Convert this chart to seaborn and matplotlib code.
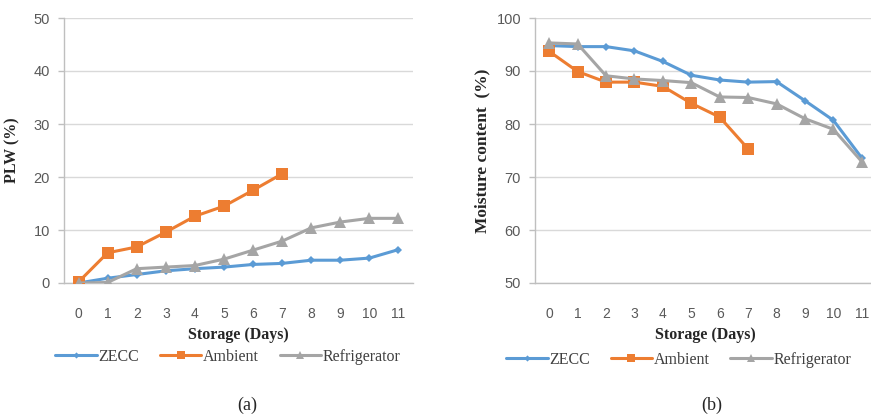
import numpy as np
import pandas as pd
import matplotlib
matplotlib.use('Agg')
import matplotlib.pyplot as plt
import seaborn as sns

# storage days
days = list(range(12))

# (a) physiological loss in weight, %
plw_zecc = [0.0, 0.9, 1.6, 2.3, 2.7, 3.0, 3.5, 3.7, 4.3, 4.3, 4.7, 6.3]
plw_ambient = [0.2, 5.7, 6.8, 9.6, 12.6, 14.5, 17.5, 20.6]
plw_fridge = [0.0, 0.1, 2.7, 3.0, 3.3, 4.5, 6.2, 7.9, 10.4, 11.5, 12.2, 12.2]

# (b) moisture content, %
mc_zecc = [94.8, 94.6, 94.6, 93.8, 91.8, 89.2, 88.3, 87.9, 88.0, 84.4, 80.7, 73.6]
mc_ambient = [93.7, 89.9, 87.9, 87.9, 87.1, 83.9, 81.3, 75.3]
mc_fridge = [95.3, 95.1, 89.1, 88.5, 88.2, 87.8, 85.1, 85.0, 83.8, 81.0, 79.0, 72.9]

names = ['ZECC', 'Ambient', 'Refrigerator']
colors = {'ZECC': '#5B9BD5', 'Ambient': '#ED7D31', 'Refrigerator': '#A5A5A5'}
markers = {'ZECC': 'D', 'Ambient': 's', 'Refrigerator': '^'}
msize = {'ZECC': 4.5, 'Ambient': 8, 'Refrigerator': 8}


def long_df(zecc, amb, fridge):
    rows = []
    for name, vals in zip(names, [zecc, amb, fridge]):
        for d, v in zip(days, vals):
            rows.append({'day': d, 'value': v, 'treat': name})
    return pd.DataFrame(rows)


sns.set_style('white')
plt.rcParams['font.family'] = ['Liberation Sans', 'DejaVu Sans']

fig = plt.figure(figsize=(8.71, 4.18), dpi=100)
W, H = 871.0, 418.0
ax1 = fig.add_axes([64 / W, 1 - 283 / H, 349 / W, 265 / H])
ax2 = fig.add_axes([535 / W, 1 - 283 / H, 341 / W, 265 / H])

serif = ['Liberation Serif', 'DejaVu Serif']


def draw(ax, df, ylim, ylabel, ylab_size, xmax, ylab_x, leg_loc, leg_x,
         leg_y, caption, cap_x):
    sns.lineplot(data=df, x='day', y='value', hue='treat', style='treat',
                 hue_order=names, style_order=names, palette=colors,
                 markers=markers, dashes=False, linewidth=2.2,
                 markeredgewidth=0, legend=False, ax=ax, zorder=3)
    for line, name in zip(ax.get_lines(), names):
        line.set_markersize(msize[name])
        line.set_markeredgecolor(colors[name])
        line.set_label(name)

    ax.set_xlim(-0.5, xmax)
    ax.set_ylim(*ylim)
    ax.set_yticks(np.arange(ylim[0], ylim[1] + 1, 10))
    ax.set_xticks(days)
    ax.set_xticks(np.arange(-0.5, 12, 1), minor=True)
    ax.grid(axis='y', color='#d9d9d9', linewidth=1)
    ax.set_axisbelow(True)
    for s in ['top', 'right']:
        ax.spines[s].set_visible(False)
    for s in ['left', 'bottom']:
        ax.spines[s].set_color('#bfbfbf')
        ax.spines[s].set_linewidth(1)
    ax.tick_params(axis='x', which='major', length=0, pad=17,
                   labelsize=10, labelcolor='#595959')
    ax.tick_params(axis='x', which='minor', length=5, width=1,
                   color='#bfbfbf', direction='out')
    ax.tick_params(axis='y', length=4, width=1, color='#bfbfbf',
                   direction='out', pad=6, labelsize=10.5,
                   labelcolor='#595959', left=True)
    ax.set_xlabel('')
    ax.set_ylabel(ylabel, family=serif, fontweight='bold', fontsize=ylab_size,
                  color='#262626')
    ax.yaxis.set_label_coords(ylab_x, 0.5)
    ax.text(0.5, -0.196, 'Storage (Days)', transform=ax.transAxes,
            ha='center', va='center', family=serif, fontweight='bold',
            fontsize=11.5, color='#262626')
    leg = ax.legend(loc=leg_loc, bbox_to_anchor=(leg_x, leg_y), ncol=3,
                    frameon=False, prop={'family': serif, 'size': 11.5},
                    handlelength=2.6, handletextpad=0.1, columnspacing=1.3,
                    markerscale=0.7, borderaxespad=0, borderpad=0)
    for t in leg.get_texts():
        t.set_color('#404040')
    fig.text(cap_x / W, 1 - 405 / H, caption, ha='center', va='center',
             family=serif, fontsize=13, color='#262626')


draw(ax1, long_df(plw_zecc, plw_ambient, plw_fridge), (0, 50), 'PLW (%)',
     11.5, 11.3, -0.126, 'center', 0.47, -0.279, '(a)', 247)
draw(ax2, long_df(mc_zecc, mc_ambient, mc_fridge), (50, 100),
     'Moisture content  (%)', 12.5, 11.5, -0.132, 'center left', -0.085,
     -0.29, '(b)', 712)

fig.savefig('out.png', dpi=100)
